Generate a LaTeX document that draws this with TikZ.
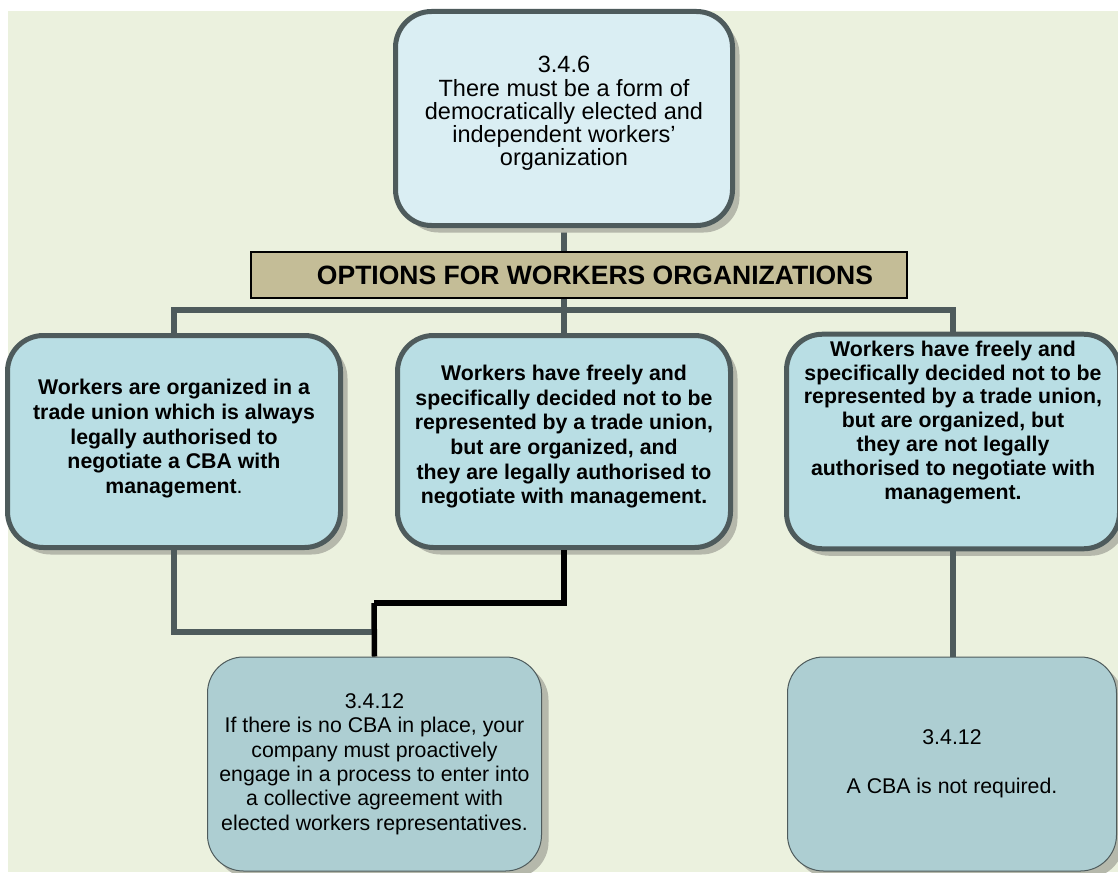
\documentclass[tikz,border=0pt]{standalone}
\usepackage{fontspec}
\setmainfont{Liberation Sans}
\usetikzlibrary{positioning, shadows}

\definecolor{bggreen}{HTML}{EBF1DE}
\definecolor{boxline}{HTML}{4E5B5C}
\definecolor{topfill}{HTML}{DAEEF3}
\definecolor{optfill}{HTML}{B9DEE4}
\definecolor{resfill}{HTML}{ADCED2}
\definecolor{headfill}{HTML}{C4BD97}
\definecolor{shadowgray}{HTML}{B5B8AB}

\begin{document}
\begin{tikzpicture}[x=0.5pt, y=-0.5pt,
    boxshadow/.style={drop shadow={shadow xshift=3.5pt, shadow yshift=-3.5pt, fill=shadowgray, opacity=1}},
    lift/.style={execute at end node={\rule[-#1]{0pt}{0pt}}},
    topbox/.style={rectangle, rounded corners=18pt, draw=boxline, line width=2.5pt, fill=topfill, align=center, minimum width=168.5pt, minimum height=107pt, font=\fontsize{11.75}{11.6}\selectfont, boxshadow},
    headbox/.style={rectangle, draw=black, line width=1pt, fill=headfill, minimum width=328pt, minimum height=23pt, font=\fontsize{13.25}{15}\selectfont\bfseries},
    optbox/.style={rectangle, rounded corners=18pt, draw=boxline, line width=2.5pt, fill=optfill, align=center, minimum width=166.5pt, minimum height=106pt, font=\fontsize{10.65}{12.35}\selectfont\bfseries, boxshadow},
    resbox/.style={rectangle, rounded corners=18pt, draw=boxline, line width=0.5pt, fill=resfill, align=center, minimum height=107pt, font=\fontsize{10.65}{12.2}\selectfont, boxshadow},
    link/.style={draw=boxline, line width=2.75pt},
    strong/.style={draw=black, line width=2.75pt}]

    \useasboundingbox (0,0) rectangle (1118,872);
    \fill [white] (0,0) rectangle (1118,872);
    \fill [bggreen] (8,11) rectangle (1118,872);

    % junction points of the connectors
    \coordinate (bus) at (564,310);
    \coordinate (j1) at (374,632);
    \coordinate (j2) at (374,603);

    % connectors first, boxes on top
    \draw [link] (564,228) -- (564,251);
    \draw [link] (564,299) -- (bus);

    \node [topbox, lift=7.5pt] (top346) at (564,118.5) {3.4.6\\There must be a form of\\democratically elected and\\independent workers’\\organization};
    \node [headbox] (heading) at (579,275) {\hspace*{16pt}OPTIONS FOR WORKERS ORGANIZATIONS};

    \node [optbox, lift=5pt] (left) at (174,441.5) {Workers are organized in a\\trade union which is always\\legally authorised to\\negotiate a CBA with\\management\textmd{.}};
    \node [optbox, lift=7pt] (mid) at (564,441.5) {Workers have freely and\\specifically decided not to be\\represented by a trade union,\\but are organized, and\\they are legally authorised to\\negotiate with management.};
    \node [optbox, lift=21.5pt, font=\fontsize{10.65}{11.9}\selectfont\bfseries] (right) at (953,441.5) {Workers have freely and\\specifically decided not to be\\represented by a trade union,\\but are organized, but\\they are not legally\\authorised to negotiate with\\management.};

    \draw [link] (left.north) |- (bus) -| (right.north);
    \draw [link] (bus) -- (mid.north);
    \draw [link] (left.south) |- (j1);
    \draw [strong] (mid.south) |- (j2);
    \draw [link] (right.south) -- ++(0,107);

    \node [resbox, minimum width=167pt] (res1) at (374.5,764) {3.4.12\\If there is no CBA in place, your\\company must proactively\\engage in a process to enter into\\a collective agreement with\\elected workers representatives.};
    \node [resbox, minimum width=164.5pt] (res2) at (952,764) {3.4.12\\[12.2pt]A CBA is not required.};

    \draw [strong] (j2) -- (res1.north);
\end{tikzpicture}
\end{document}
